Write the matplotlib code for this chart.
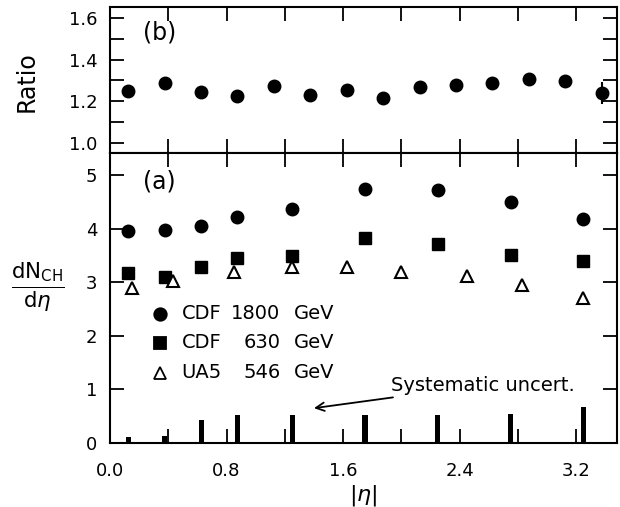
import matplotlib
matplotlib.use("Agg")
import matplotlib.pyplot as plt
import numpy as np

plt.rcParams['font.family'] = ['DejaVu Sans']
plt.rcParams['mathtext.fontset'] = 'dejavusans'

# ---- data ----
ratio_eta = [0.125, 0.375, 0.625, 0.875, 1.125, 1.375, 1.625, 1.875, 2.125,
             2.375, 2.625, 2.875, 3.125, 3.375]
ratio_val = [1.25, 1.29, 1.245, 1.225, 1.275, 1.232, 1.254, 1.216, 1.267,
             1.276, 1.286, 1.305, 1.296, 1.24]
ratio_err = [0, 0, 0, 0, 0, 0, 0, 0, 0, 0, 0, 0, 0, 0.052]

cdf_eta = [0.125, 0.375, 0.625, 0.875, 1.25, 1.75, 2.25, 2.75, 3.25]
cdf1800 = [3.95, 3.97, 4.04, 4.22, 4.37, 4.73, 4.72, 4.49, 4.18]
cdf630 = [3.17, 3.09, 3.29, 3.46, 3.49, 3.82, 3.72, 3.51, 3.39]
syst = [0.12, 0.13, 0.43, 0.52, 0.52, 0.53, 0.53, 0.55, 0.67]

ua5_eta = [0.15, 0.43, 0.85, 1.25, 1.63, 2.0, 2.45, 2.83, 3.25]
ua5_546 = [2.89, 3.03, 3.19, 3.29, 3.28, 3.19, 3.12, 2.95, 2.70]

leg_names = ["CDF", "CDF", "UA5"]
leg_energy = ["1800", "630", "546"]
leg_markers = ["o", "s", "^"]
leg_y = [2.41, 1.87, 1.31]

x_ticks = [0.0, 0.8, 1.6, 2.4, 3.2]
x_ticklabels = ["0.0", "0.8", "1.6", "2.4", "3.2"]

# ---- figure ----
W, H = 620, 507
fig = plt.figure(figsize=(W / 100, H / 100), dpi=100)
L, R = 110 / W, 617 / W
ax_b = fig.add_axes([L, 1 - 153 / H, R - L, (153 - 7) / H])
ax_a = fig.add_axes([L, 1 - 443 / H, R - L, (443 - 153) / H], sharex=ax_b)

for ax in (ax_a, ax_b):
    for s in ax.spines.values():
        s.set_linewidth(1.5)
    ax.tick_params(which='both', direction='in', top=True, right=True,
                   length=10, width=1.3, labelsize=13, pad=9)
    ax.set_xticks(np.arange(0.4, 3.45, 0.4), minor=True)
    ax.set_xticks(x_ticks)

ax_b.set_xlim(0, 3.48)
ax_b.set_ylim(0.952, 1.652)
ax_b.set_yticks([1.0, 1.2, 1.4, 1.6])
ax_b.set_yticks(np.arange(1.0, 1.65, 0.1), minor=True)
ax_b.set_yticklabels(["1.0", "1.2", "1.4", "1.6"])
ax_b.tick_params(axis='x', labelbottom=False)

ax_b.errorbar(ratio_eta, ratio_val, yerr=ratio_err, fmt='o', color='black',
              ms=9, elinewidth=1.5, capsize=0)
ax_b.text(0.34, 1.53, "(b)", fontsize=17, ha='center', va='center')

ax_a.set_ylim(0, 5.41)
ax_a.set_yticks([0, 1, 2, 3, 4, 5])
ax_a.set_yticklabels(["0", "1", "2", "3", "4", "5"])
ax_a.set_xticklabels(x_ticklabels)
ax_a.tick_params(axis='x', pad=14)

ax_a.plot(cdf_eta, cdf1800, 'o', color='black', ms=9)
ax_a.plot(cdf_eta, cdf630, 's', color='black', ms=8.5)
ax_a.plot(ua5_eta, ua5_546, '^', mfc='white', mec='black', mew=1.5, ms=8.5)
ax_a.bar(cdf_eta, syst, width=0.035, color='black', bottom=0)

ax_a.text(0.34, 4.87, "(a)", fontsize=17, ha='center', va='center')

mfc = ['black', 'black', 'white']
for nm, en, mk, yy, fc in zip(leg_names, leg_energy, leg_markers, leg_y, mfc):
    ax_a.plot([0.345], [yy], mk, mfc=fc, mec='black', mew=1.3,
              ms=9 if mk == 'o' else 8)
    ax_a.text(0.49, yy, nm, fontsize=14, ha='left', va='center')
    ax_a.text(1.17, yy, en, fontsize=14, ha='right', va='center')
    ax_a.text(1.26, yy, "GeV", fontsize=14, ha='left', va='center')

ax_a.annotate("Systematic uncert.", xy=(1.40, 0.65), xytext=(1.93, 1.08),
              fontsize=14, ha='left', va='center',
              arrowprops=dict(arrowstyle='->', color='black', lw=1.3,
                              shrinkA=0, shrinkB=0, mutation_scale=15))

fig.text(363 / W, 1 - 495 / H, r"$|\eta|$", fontsize=16, ha='center', va='center')
fig.text(27 / W, 1 - 82 / H, "Ratio", fontsize=17, rotation=90,
         ha='center', va='center')
fig.text(38 / W, 1 - 287 / H, r"$\frac{\mathrm{dN}_{\mathrm{CH}}}{\mathrm{d}\eta}$",
         fontsize=22, ha='center', va='center')

fig.savefig("out.png", dpi=100)
